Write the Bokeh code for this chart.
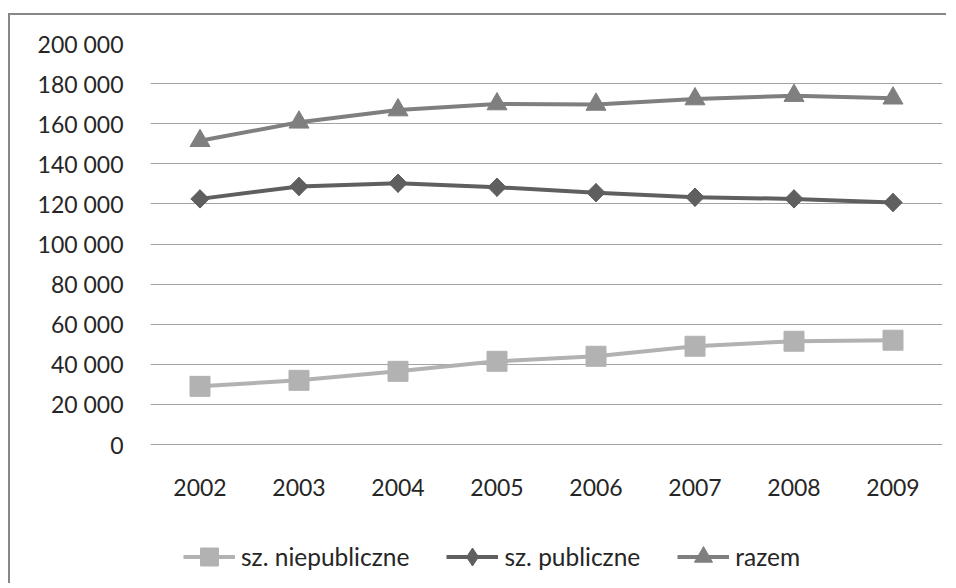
from bokeh.plotting import figure
from bokeh.models import (FactorRange, Range1d, CustomJSTickFormatter, Legend,
                          LegendItem, FixedTicker)
from bokeh.embed import file_html
from bokeh.resources import INLINE
import numpy as np

years = ["2002", "2003", "2004", "2005", "2006", "2007", "2008", "2009"]
niepubliczne = [29000, 32000, 36500, 41500, 44000, 49000, 51500, 52000]
publiczne = [122500, 128700, 130300, 128300, 125600, 123300, 122500, 120700]
razem = [151500, 160700, 166800, 169800, 169600, 172300, 174000, 172700]
y_ticks = [0, 20000, 40000, 60000, 80000, 100000, 120000, 140000, 160000, 180000, 200000]

FONT = "Lato"
TXT = "#262626"
C_NIE = "#b2b2b2"
C_PUB = "#5f5f5f"
C_RAZ = "#7f7f7f"

# plot area: 401 px for 0..200000, frame extended down to hold the legend
H, TOP = 570, 28
frame_h = H - TOP
y_min = -(frame_h - 401) / 401 * 200000

p = figure(width=938, height=H, x_range=FactorRange(*years), y_range=Range1d(y_min, 200000),
           output_backend="svg", toolbar_location=None,
           min_border_left=140, min_border_right=6, min_border_top=TOP, min_border_bottom=0)
p.styles = {"margin-top": "13px", "margin-left": "8px",
            "border-left": "2px solid #878787", "border-top": "2px solid #878787"}
p.outline_line_color = None
p.background_fill_color = "white"
p.border_fill_color = "white"

p.xgrid.grid_line_color = None
p.ygrid.grid_line_color = "#a3a3a3"
p.ygrid.grid_line_width = 1.2

for ax in (p.xaxis[0], p.yaxis[0]):
    ax.axis_line_color = None
    ax.major_tick_line_color = None
    ax.minor_tick_line_color = None
    ax.major_tick_out = 0
    ax.major_tick_in = 0
    ax.major_label_text_font = FONT
    ax.major_label_text_font_size = "23px"
    ax.major_label_text_color = TXT

p.xaxis.fixed_location = 0
p.yaxis.ticker = FixedTicker(ticks=y_ticks)
p.yaxis.formatter = CustomJSTickFormatter(
    code="return tick.toFixed(0).replace(/\\B(?=(\\d{3})+(?!\\d))/g, ' ');")
p.yaxis.major_label_standoff = 27
p.xaxis.major_label_standoff = 34

l1 = p.line(years, niepubliczne, line_color=C_NIE, line_width=4)
s1 = p.scatter(years, niepubliczne, marker="square", size=20, fill_color=C_NIE, line_color=C_NIE)
l2 = p.line(years, publiczne, line_color=C_PUB, line_width=4)
# diamond used for the legend symbol (hidden under the rotated squares in the plot)
s2_leg = p.scatter(years, publiczne, marker="diamond", size=18, fill_color=C_PUB, line_color=C_PUB)
s2 = p.scatter(years, publiczne, marker="square", size=13, angle=np.pi / 4,
               fill_color=C_PUB, line_color=C_PUB)
l3 = p.line(years, razem, line_color=C_RAZ, line_width=4)
s3 = p.scatter(years, razem, marker="triangle", size=20, fill_color=C_RAZ, line_color=C_RAZ)

legend = Legend(items=[LegendItem(label="sz. niepubliczne", renderers=[l1, s1]),
                       LegendItem(label="sz. publiczne", renderers=[l2, s2_leg]),
                       LegendItem(label="razem", renderers=[l3, s3])],
                orientation="horizontal", location=(33, 6),
                glyph_width=52, glyph_height=45, label_standoff=6, spacing=37,
                padding=0, margin=0, border_line_color=None, background_fill_alpha=0,
                label_text_font=FONT, label_text_font_size="24.5px", label_text_color=TXT)
p.add_layout(legend)

open("out.html", "w").write(file_html(p, INLINE))
